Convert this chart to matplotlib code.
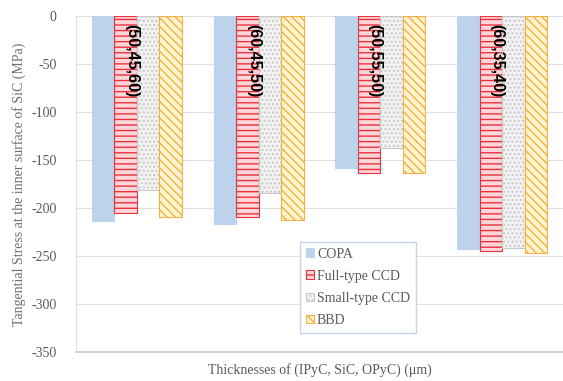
import numpy as np
import matplotlib.pyplot as plt

plt.rcParams['font.family'] = ['Liberation Serif', 'DejaVu Serif']
plt.rcParams['hatch.linewidth'] = 1.0
plt.rcParams['axes.unicode_minus'] = False

groups = ["(50,45,60)", "(60,45,50)", "(50,55,50)", "(60,35,40)"]
series = ["COPA", "Full-type CCD", "Small-type CCD", "BBD"]
copa = [-213, -216, -158, -243]
full_ccd = [-205, -209, -163, -245]
small_ccd = [-181, -184, -137, -242]
bbd = [-209, -212, -163, -247]

values = [copa, full_ccd, small_ccd, bbd]
faces = ["#BDD3EC", "#FFD6D9", "#F2F2F2", "#FFF4D0"]
edges = ["#BDD3EC", "#E8323C", "#C8C8C8", "#F4B040"]
hatches = [None, "---", "....", "\\\\\\\\"]

fig = plt.figure(figsize=(5.63, 3.81), dpi=100)
ax = fig.add_axes([0.135, 0.076, 0.865, 0.881])

x = np.arange(len(groups))
w = 0.185
for i, (vals, name) in enumerate(zip(values, series)):
    pos = x + (i - 1.5) * w
    ax.bar(pos, vals, w, color=faces[i], edgecolor=edges[i], hatch=hatches[i],
           linewidth=0.8, label=name, zorder=3)

for xi, g in zip(x, groups):
    ax.text(xi - 0.5 * w + 0.05, -8, g, rotation=270, ha="center", va="top",
            fontsize=11.5, fontweight="bold", family=["Liberation Sans Narrow", "Liberation Sans"],
            zorder=5)

ax.set_ylim(-350, 0)
ax.set_xlim(-0.5, 3.5)
ax.set_yticks(np.arange(-350, 1, 50))
ax.set_xticks([])
ax.yaxis.grid(True, color="#E0E0E0", linewidth=0.8, zorder=0)
ax.tick_params(axis="y", length=0, labelsize=10, labelcolor="#595959", pad=14)
for s in ["top", "right"]:
    ax.spines[s].set_visible(False)
ax.spines["left"].set_color("#E0E0E0")
ax.spines["bottom"].set_color("#CCCCCC")
ax.spines["bottom"].set_linewidth(1.2)

ax.set_ylabel("Tangential Stress at the inner surface of SiC (MPa)", fontsize=10,
              color="#6E6E6E", labelpad=4)
ax.set_xlabel("Thicknesses of (IPyC, SiC, OPyC) (\u03bcm)", fontsize=10, color="#595959", labelpad=8)

leg = ax.legend(loc="upper left", bbox_to_anchor=(0.445, 0.35), fontsize=10,
                labelcolor="#595959", handlelength=0.6, handleheight=0.6,
                handletextpad=0.2, borderpad=0.45, labelspacing=0.65,
                fancybox=False, framealpha=1)
leg.get_frame().set_edgecolor("#C5D5EA")

fig.savefig("out.png", dpi=100)
